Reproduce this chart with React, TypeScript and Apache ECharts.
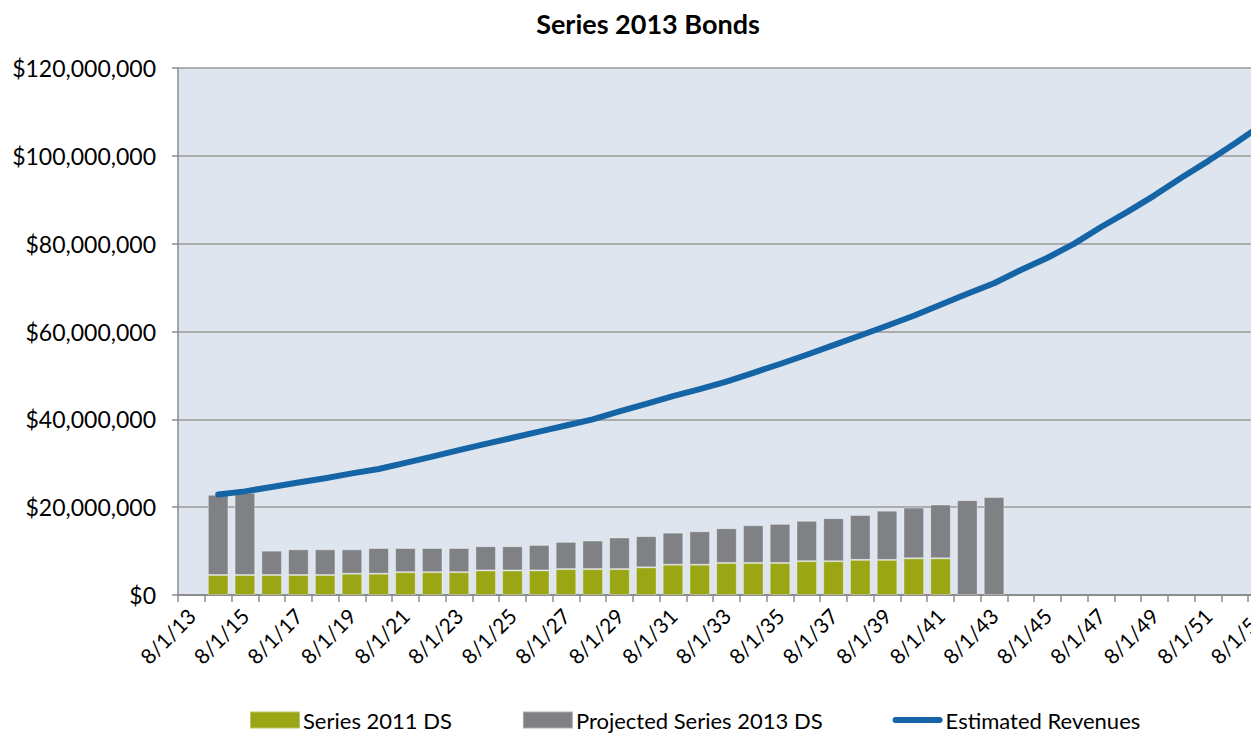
import React, { useEffect, useRef } from "react";
import * as echarts from "echarts";

const categories = [
  "8/1/13", "8/1/14", "8/1/15", "8/1/16", "8/1/17", "8/1/18", "8/1/19", "8/1/20",
  "8/1/21", "8/1/22", "8/1/23", "8/1/24", "8/1/25", "8/1/26", "8/1/27", "8/1/28",
  "8/1/29", "8/1/30", "8/1/31", "8/1/32", "8/1/33", "8/1/34", "8/1/35", "8/1/36",
  "8/1/37", "8/1/38", "8/1/39", "8/1/40", "8/1/41", "8/1/42", "8/1/43", "8/1/44",
  "8/1/45", "8/1/46", "8/1/47", "8/1/48", "8/1/49", "8/1/50", "8/1/51", "8/1/52",
  "8/1/53",
];

const series2011DS = [
  null, 4550000, 4550000, 4550000, 4550000, 4550000, 4850000, 4850000, 5200000,
  5200000, 5200000, 5600000, 5600000, 5600000, 5900000, 5900000, 5900000, 6300000,
  6900000, 6900000, 7300000, 7300000, 7300000, 7700000, 7700000, 8000000, 8000000,
  8350000, 8350000, null, null,
];

const projected2013DS = [
  null, 18250000, 18750000, 5550000, 5850000, 5850000, 5550000, 5850000, 5500000,
  5500000, 5500000, 5500000, 5500000, 5800000, 6200000, 6500000, 7200000, 7100000,
  7300000, 7600000, 7900000, 8600000, 8900000, 9200000, 9800000, 10200000, 11200000,
  11550000, 12250000, 21600000, 22300000,
];

const estimatedRevenues = [
  null, 22900000, 23600000, 24600000, 25600000, 26600000, 27700000, 28700000,
  30100000, 31500000, 33000000, 34400000, 35800000, 37200000, 38600000, 40000000,
  41800000, 43500000, 45300000, 46900000, 48600000, 50600000, 52600000, 54700000,
  56900000, 59100000, 61300000, 63600000, 66100000, 68600000, 71000000, 74000000,
  76800000, 80000000, 83800000, 87300000, 91000000, 95000000, 98800000, 102800000,
  107000000,
];

const FONT = "Lato, 'Open Sans', sans-serif";

export default function App() {
  const ref = useRef<HTMLDivElement>(null);

  useEffect(() => {
    const chart = echarts.init(ref.current as HTMLDivElement, null, { renderer: "svg" });
    chart.setOption({
      animation: false,
      backgroundColor: "#ffffff",
      title: {
        text: "Series 2013 Bonds",
        left: "center",
        top: 5,
        textStyle: { fontFamily: FONT, fontSize: 27, fontWeight: "bold", color: "#000" },
      },
      legend: {
        left: 244,
        top: 704,
        itemWidth: 50,
        itemHeight: 17,
        itemGap: 70,
        textStyle: { fontFamily: FONT, fontSize: 22, color: "#000", padding: [0, 0, 0, -2] },
        data: [
          { name: "Series 2011 DS", icon: "rect" },
          { name: "Projected Series 2013 DS", icon: "rect" },
          {
            name: "Estimated Revenues",
            icon:
              "path://M0,0 L0.01,0 L0,0.01 Z M50,17 L49.99,17 L50,16.99 Z M3,5.5 L47,5.5 A3,3 0 0 1 47,11.5 L3,11.5 A3,3 0 0 1 3,5.5 Z",
          },
        ],
      },
      grid: {
        left: 178,
        top: 68,
        right: 21,
        bottom: 138,
        show: true,
        backgroundColor: "#dfe5ef",
        borderWidth: 0,
      },
      xAxis: {
        type: "category",
        data: categories,
        boundaryGap: true,
        axisLine: { lineStyle: { color: "#8c8c8c", width: 2 } },
        axisTick: { show: true, interval: 0, length: 7, lineStyle: { color: "#8c8c8c", width: 1.5 } },
        axisLabel: {
          interval: 1,
          rotate: 45,
          margin: 17,
          fontFamily: FONT,
          fontSize: 21,
          color: "#000",
        },
        splitLine: { show: false },
      },
      yAxis: {
        type: "value",
        min: 0,
        max: 120000000,
        interval: 20000000,
        axisLine: { show: true, lineStyle: { color: "#8c8c8c", width: 1.5 } },
        axisTick: { show: true, length: 6, lineStyle: { color: "#8c8c8c", width: 1.5 } },
        splitLine: { lineStyle: { color: "#999999", width: 1.5 } },
        axisLabel: {
          margin: 22,
          fontFamily: FONT,
          fontSize: 23,
          color: "#000",
          formatter: (v: number) => "$" + v.toLocaleString("en-US"),
        },
      },
      series: [
        {
          name: "Series 2011 DS",
          type: "bar",
          stack: "ds",
          data: series2011DS,
          barCategoryGap: "23%",
          color: "#9ba614",
          itemStyle: { color: "#9ba614", borderColor: "rgba(255,255,255,0.35)", borderWidth: 1 },
          z: 2,
        },
        {
          name: "Projected Series 2013 DS",
          type: "bar",
          stack: "ds",
          data: projected2013DS,
          barCategoryGap: "23%",
          color: "#808184",
          itemStyle: { color: "#808184", borderColor: "rgba(255,255,255,0.35)", borderWidth: 1 },
          z: 2,
        },
        {
          name: "Estimated Revenues",
          type: "line",
          data: estimatedRevenues,
          color: "#1565a6",
          showSymbol: false,
          symbol: "none",
          lineStyle: { color: "#1565a6", width: 6, cap: "round", join: "round" },
          z: 5,
        },
      ],
    });
    return () => chart.dispose();
  }, []);

  return (
    <div
      style={{
        position: "fixed",
        left: 0,
        top: 0,
        width: 1251,
        height: 733,
        overflow: "hidden",
        background: "#fff",
      }}
    >
      <div ref={ref} style={{ width: 1296, height: 733 }} />
    </div>
  );
}
